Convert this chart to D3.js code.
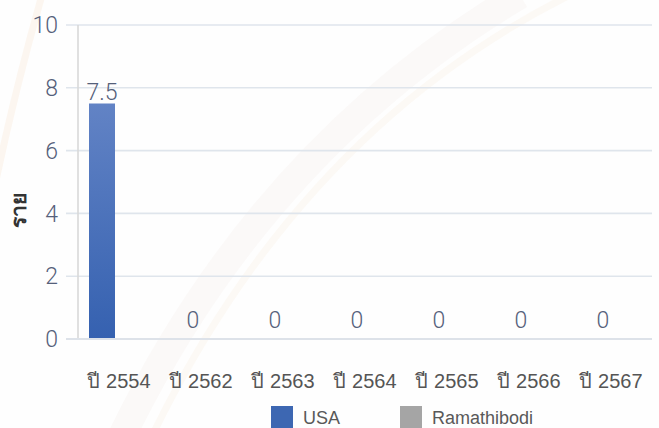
<!DOCTYPE html>
<html>
<head>
<meta charset="utf-8">
<script src="https://cdn.jsdelivr.net/npm/d3@7"></script>
<style>
  html, body { margin: 0; padding: 0; background: #fefefe; }
  svg { display: block; }
  text { font-family: "Liberation Sans", Arial, sans-serif; }
  .num { font-family: "Roboto", "Liberation Sans", sans-serif; font-weight: 300; }
</style>
</head>
<body>
<svg id="chart" width="659" height="428"></svg>
<script>
const categories = ["ปี 2554", "ปี 2562", "ปี 2563", "ปี 2564", "ปี 2565", "ปี 2566", "ปี 2567"];
const seriesNames = ["USA", "Ramathibodi"];
const usaValues = [7.5, 0, 0, 0, 0, 0, 0];
const ramathibodiValues = [null, null, null, null, null, null, null];
const yTicks = [0, 2, 4, 6, 8, 10];
const yTitle = "ราย";

const colors = { "USA": "#3d67b2", "Ramathibodi": "#a5a5a5" };

const svg = d3.select("#chart");
const W = 659, H = 428;
const margin = { left: 78, right: 7, top: 25, bottom: 89 };

// faint background watermark swooshes
const bg = svg.append("g");
bg.append("path").attr("d", "M120,440 Q260,150 520,-5")
  .attr("fill", "none").attr("stroke", "#f6f0ea").attr("stroke-opacity", 0.3).attr("stroke-width", 28);
bg.append("path").attr("d", "M150,440 Q300,130 570,-5")
  .attr("fill", "none").attr("stroke", "#f8e6d6").attr("stroke-opacity", 0.22).attr("stroke-width", 7);
bg.append("path").attr("d", "M-5,185 Q15,90 42,-5")
  .attr("fill", "none").attr("stroke", "#f8e4d2").attr("stroke-opacity", 0.3).attr("stroke-width", 7);

const x0 = d3.scaleBand().domain(categories).range([margin.left, W - margin.right]).paddingInner(0).paddingOuter(0);
const bw = x0.bandwidth();
const x1 = d3.scaleBand().domain(seriesNames).range([11, 63]);
const y = d3.scaleLinear().domain([0, 10]).range([H - margin.bottom, margin.top]);

// gridlines
svg.append("g").selectAll("line").data(yTicks).join("line")
  .attr("x1", 66).attr("x2", W - margin.right)
  .attr("y1", d => y(d)).attr("y2", d => y(d))
  .attr("stroke", "#dfe5ec").attr("stroke-width", 1.6);

// y axis line
svg.append("line").attr("x1", margin.left).attr("x2", margin.left)
  .attr("y1", y(10)).attr("y2", y(0) + 1)
  .attr("stroke", "#d9d9d9").attr("stroke-width", 1.6);

// y tick labels
svg.append("g").selectAll("text").data(yTicks).join("text")
  .attr("class", "num")
  .attr("x", 58).attr("y", d => y(d)).attr("dy", "0.36em")
  .attr("text-anchor", "end")
  .attr("font-size", 23).attr("fill", "#55607a")
  .text(d => d);

// y title
svg.append("text")
  .attr("transform", `translate(26,${210}) rotate(-90)`)
  .attr("text-anchor", "middle")
  .attr("font-size", 21).attr("font-weight", "bold").attr("fill", "#333")
  .text(yTitle);

// gradient
const defs = svg.append("defs");
const grad = defs.append("linearGradient").attr("id", "usaGrad")
  .attr("x1", 0).attr("y1", 0).attr("x2", 0).attr("y2", 1);
grad.append("stop").attr("offset", "0%").attr("stop-color", "#6283c5");
grad.append("stop").attr("offset", "100%").attr("stop-color", "#3561b0");

const rows = categories.map((c, i) => ({ cat: c, USA: usaValues[i], Ramathibodi: ramathibodiValues[i] }));

// bars
const groups = svg.append("g").selectAll("g").data(rows).join("g")
  .attr("transform", d => `translate(${x0(d.cat)},0)`);
groups.selectAll("rect")
  .data(d => seriesNames.map(s => ({ s, v: d[s] })).filter(e => e.v != null && e.v > 0))
  .join("rect")
  .attr("x", d => x1(d.s)).attr("width", x1.bandwidth())
  .attr("y", d => y(d.v)).attr("height", d => y(0) - y(d.v))
  .attr("fill", d => d.s === "USA" ? "url(#usaGrad)" : colors[d.s]);

// value labels (USA)
groups.append("text")
  .attr("class", "num")
  .attr("x", d => x1("USA") + x1.bandwidth() / 2 + (d.USA === 0 ? 9 : 0))
  .attr("y", d => y(d.USA) - (d.USA === 0 ? 11 : 4))
  .attr("text-anchor", "middle")
  .attr("font-size", 23).attr("fill", "#55607a")
  .text(d => d.USA);

// baseline
svg.append("line").attr("x1", 66).attr("x2", W - margin.right)
  .attr("y1", y(0)).attr("y2", y(0))
  .attr("stroke", "#dde2e9").attr("stroke-width", 2);

// x labels
svg.append("g").selectAll("text").data(categories).join("text")
  .attr("x", d => x0(d) + bw / 2).attr("y", 388)
  .attr("text-anchor", "middle")
  .attr("font-size", 20).attr("fill", "#555")
  .text(d => d);

// legend
const legend = svg.append("g");
const legendX = [271, 400];
seriesNames.forEach((s, i) => {
  legend.append("rect").attr("x", legendX[i]).attr("y", 406).attr("width", 22).attr("height", 22)
    .attr("fill", colors[s]);
  legend.append("text").attr("x", legendX[i] + 32).attr("y", 424)
    .attr("font-size", 18).attr("fill", "#595959").text(s);
});
</script>
</body>
</html>
